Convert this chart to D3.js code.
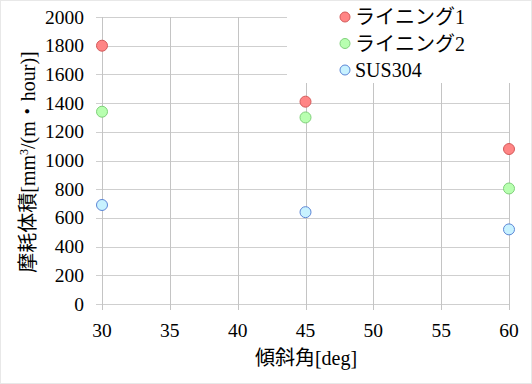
<!DOCTYPE html>
<html>
<head>
<meta charset="utf-8">
<script src="https://cdn.jsdelivr.net/npm/d3@7"></script>
<style>
  body { margin: 0; background: #fff; }
  text { font-family: "Liberation Serif", "Noto Sans CJK JP", serif; fill: #000; }
</style>
</head>
<body>
<svg></svg>
<script>
const width = 532;
const height = 384;

// data
const angles = [30, 45, 60];
const lining1 = [1800, 1410, 1080];
const lining2 = [1340, 1300, 805];
const sus304 = [690, 640, 520];
const seriesNames = ["ライニング1", "ライニング2", "SUS304"];
const xTicks = [30, 35, 40, 45, 50, 55, 60];
const yTicks = [0, 200, 400, 600, 800, 1000, 1200, 1400, 1600, 1800, 2000];

const fills = ["#ff8585", "#b8ffb0", "#c8f2ff"];
const strokes = ["#d45a5a", "#7fd17a", "#5c86d6"];

const series = [lining1, lining2, sus304].map((vals, i) => ({
	name: seriesNames[i],
	fill: fills[i],
	stroke: strokes[i],
	points: vals.map((v, j) => ({ x: angles[j], y: v }))
}));

const svg = d3.select("svg").attr("width", width).attr("height", height);

svg.append("rect")
	.attr("x", 0.5).attr("y", 0.5)
	.attr("width", width - 1).attr("height", height - 1)
	.attr("fill", "#fff").attr("stroke", "#e8e8e8");

const x = d3.scaleLinear().domain([30, 60]).range([102, 509]);
const y = d3.scaleLinear().domain([0, 2000]).range([304, 17]);

// gridlines
svg.append("g")
	.selectAll("line")
	.data(yTicks)
	.enter()
	.append("line")
	.attr("x1", 96).attr("x2", 509)
	.attr("y1", (d) => Math.round(y(d)) + 0.5)
	.attr("y2", (d) => Math.round(y(d)) + 0.5)
	.attr("stroke", "#cfcfcf");

svg.append("g")
	.selectAll("line")
	.data(xTicks)
	.enter()
	.append("line")
	.attr("x1", (d) => Math.round(x(d)) + 0.5)
	.attr("x2", (d) => Math.round(x(d)) + 0.5)
	.attr("y1", 17).attr("y2", 310)
	.attr("stroke", "#c4c4c4");

// tick labels
svg.append("g")
	.selectAll("text")
	.data(yTicks)
	.enter()
	.append("text")
	.attr("x", 84)
	.attr("y", (d) => y(d) + 6.5)
	.attr("text-anchor", "end")
	.attr("font-size", 19.5)
	.text((d) => d);

svg.append("g")
	.selectAll("text")
	.data(xTicks)
	.enter()
	.append("text")
	.attr("x", (d) => x(d))
	.attr("y", 337)
	.attr("text-anchor", "middle")
	.attr("font-size", 19.5)
	.text((d) => d);

// axis titles
svg.append("text")
	.attr("x", 306)
	.attr("y", 365)
	.attr("text-anchor", "middle")
	.attr("font-size", 20)
	.text("傾斜角[deg]");

const yTitle = svg.append("text")
	.attr("transform", "translate(35,162) rotate(-90)")
	.attr("text-anchor", "middle")
	.attr("font-size", 20);
yTitle.append("tspan").text("摩耗体積[mm");
yTitle.append("tspan").attr("font-size", 12).attr("dy", -7).text("3");
yTitle.append("tspan").attr("dy", 7).text("/(m・hour)]");

// legend box covers the grid at top right
const legend = svg.append("g");
legend.append("rect")
	.attr("x", 287).attr("y", 1)
	.attr("width", 243).attr("height", 82)
	.attr("fill", "#fff");

const rows = legend.selectAll("g.row")
	.data(series)
	.enter()
	.append("g")
	.attr("class", "row")
	.attr("transform", (d, i) => `translate(345,${17 + i * 26.5})`);
rows.append("circle")
	.attr("r", 5)
	.attr("fill", (d) => d.fill)
	.attr("stroke", (d) => d.stroke);
rows.append("text")
	.attr("x", 10)
	.attr("y", 7)
	.attr("font-size", 20)
	.text((d) => d.name);

// points
const groups = svg.append("g")
	.selectAll("g")
	.data(series)
	.enter()
	.append("g");
groups.selectAll("circle")
	.data((d) => d.points.map((p) => ({ ...p, fill: d.fill, stroke: d.stroke })))
	.enter()
	.append("circle")
	.attr("cx", (d) => x(d.x))
	.attr("cy", (d) => y(d.y))
	.attr("r", 5.5)
	.attr("fill", (d) => d.fill)
	.attr("stroke", (d) => d.stroke);
</script>
</body>
</html>
